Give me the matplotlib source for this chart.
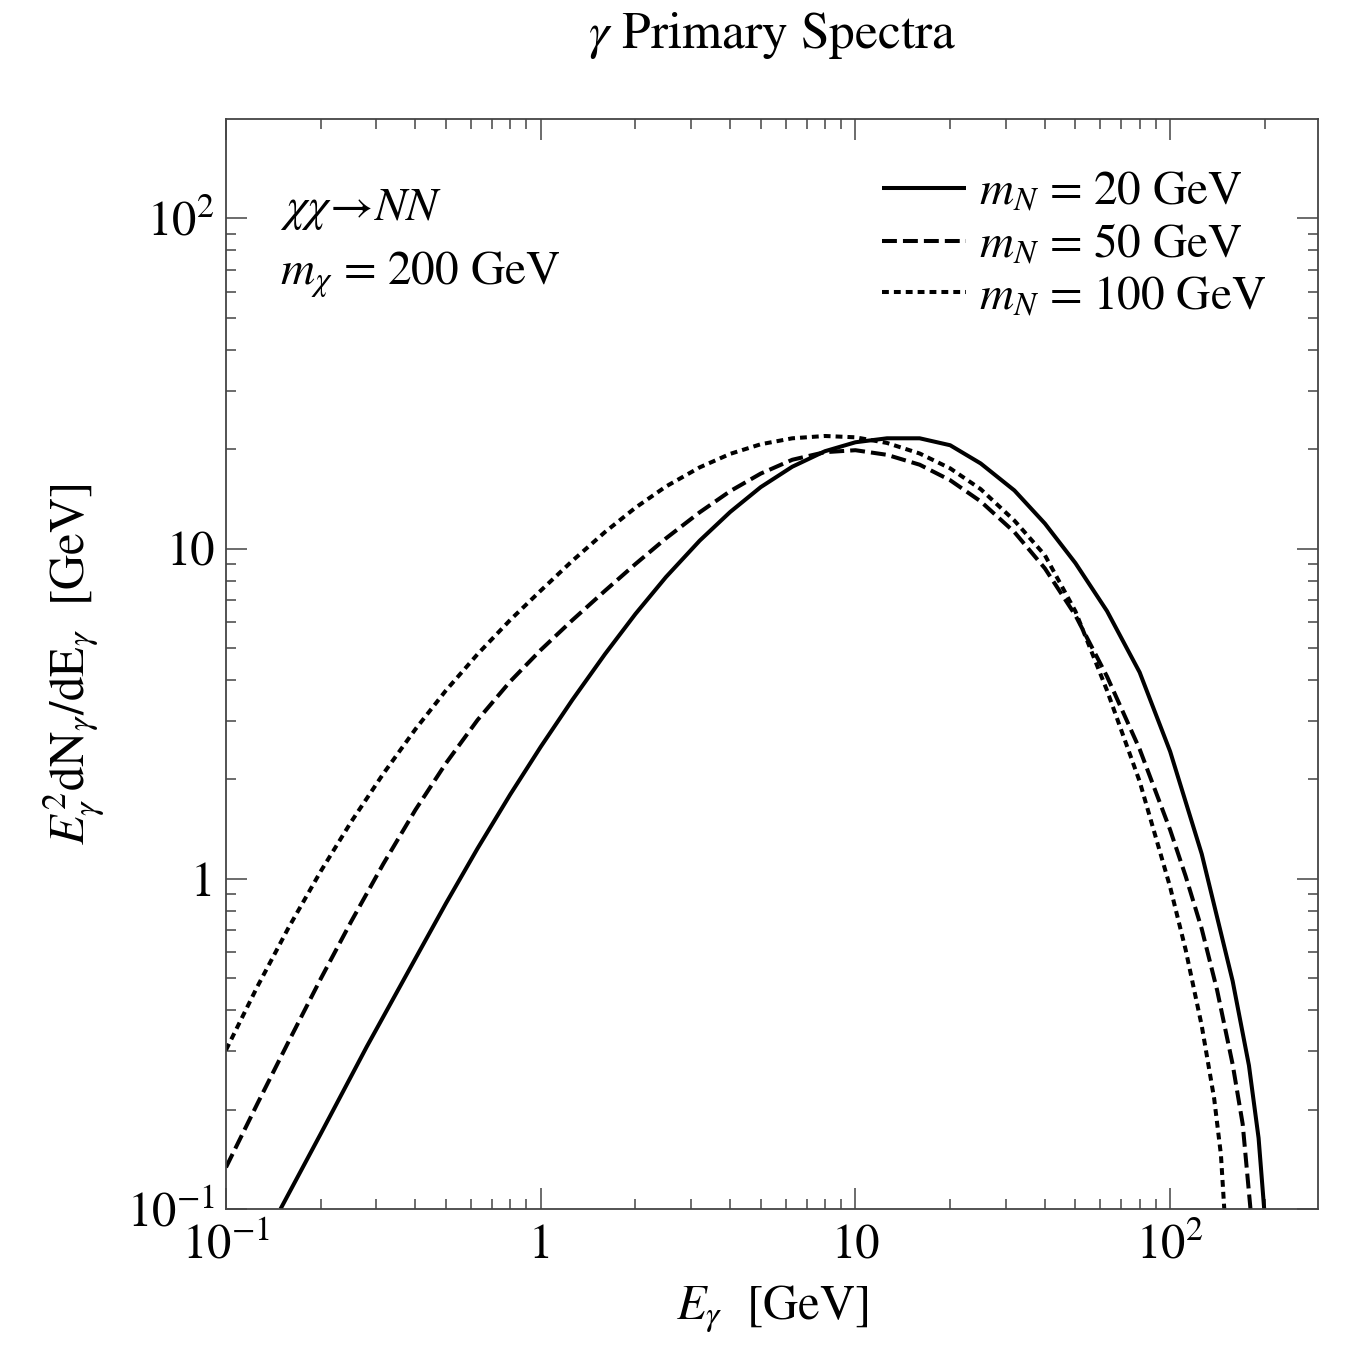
import matplotlib
matplotlib.use("Agg")
import matplotlib.pyplot as plt
from matplotlib.ticker import FixedLocator, NullFormatter

# ---- data (E_gamma in GeV, E^2 dN/dE in GeV) ----
x_mN20 = [0.149, 0.2, 0.28, 0.4, 0.5, 0.63, 0.8, 1.0, 1.26, 1.6, 2.0, 2.5, 3.2, 4.0, 5.0,
          6.3, 8.0, 10.0, 12.6, 16.0, 20.0, 25.0, 32.0, 40.0, 50.0, 63.0, 80.0, 100.0,
          126.0, 158.0, 178.0, 191.0, 199.0]
y_mN20 = [0.1, 0.169, 0.310, 0.574, 0.843, 1.236, 1.80, 2.51, 3.48, 4.79, 6.34, 8.20,
          10.57, 12.91, 15.35, 17.70, 19.72, 20.99, 21.58, 21.58, 20.56, 18.11, 15.0, 11.91,
          9.04, 6.47, 4.22, 2.43, 1.189, 0.49, 0.272, 0.164, 0.1]

x_mN50 = [0.1, 0.126, 0.158, 0.2, 0.25, 0.316, 0.4, 0.5, 0.63, 0.8, 1.0, 1.26, 1.6, 2.0,
          2.5, 3.2, 4.0, 5.0, 6.3, 8.0, 10.0, 12.6, 16.0, 20.0, 25.0, 32.0, 40.0, 50.0,
          63.0, 80.0, 100.0, 112.0, 126.0, 141.0, 158.0, 170.0, 180.0]
y_mN50 = [0.1337, 0.209, 0.321, 0.498, 0.743, 1.109, 1.618, 2.239, 3.027, 3.96, 4.93, 6.07,
          7.45, 8.98, 10.74, 12.88, 14.93, 16.87, 18.58, 19.59, 19.86, 19.23, 17.95, 16.11,
          13.90, 11.22, 8.71, 6.28, 4.10, 2.47, 1.406, 1.019, 0.705, 0.460, 0.274, 0.181, 0.1]

x_mN100 = [0.1, 0.126, 0.158, 0.2, 0.25, 0.316, 0.4, 0.5, 0.63, 0.8, 1.0, 1.26, 1.6, 2.0,
           2.5, 3.2, 4.0, 5.0, 6.3, 8.0, 10.0, 12.6, 16.0, 20.0, 25.0, 32.0, 40.0, 50.0,
           63.0, 80.0, 100.0, 112.0, 126.0, 138.0, 145.0, 148.6]
y_mN100 = [0.303, 0.473, 0.711, 1.054, 1.489, 2.08, 2.84, 3.72, 4.79, 6.08, 7.46, 9.18,
           11.22, 13.30, 15.42, 17.62, 19.36, 20.70, 21.58, 21.93, 21.73, 20.89, 19.41,
           17.50, 15.14, 12.16, 9.55, 6.46, 3.72, 1.972, 0.944, 0.610, 0.359, 0.216, 0.146, 0.1]

series_labels = [r"$m_N$ = 20 GeV", r"$m_N$ = 50 GeV", r"$m_N$ = 100 GeV"]

x_ticks = [0.1, 1, 10, 100]
x_ticklabels = [r"$10^{-1}$", "1", "10", r"$10^{2}$"]
y_ticks = [0.1, 1, 10, 100]
y_ticklabels = [r"$10^{-1}$", "1", "10", r"$10^{2}$"]

# ---- style ----
plt.rcParams['font.family'] = ['STIXGeneral', 'DejaVu Serif']
plt.rcParams['mathtext.fontset'] = 'stix'

W, H = 1348, 1345
fig = plt.figure(figsize=(W / 100, H / 100), dpi=100)
ax = fig.add_axes([226 / W, 1 - 1209 / H, (1318 - 226) / W, (1209 - 119) / H])

lw = 2.9
ax.plot(x_mN20, y_mN20, color='black', lw=lw, linestyle='-', label=series_labels[0],
        solid_capstyle='butt', solid_joinstyle='round')
ax.plot(x_mN50, y_mN50, color='black', lw=lw, linestyle=(0, (3.7, 1.5)),
        label=series_labels[1])
ax.plot(x_mN100, y_mN100, color='black', lw=lw, linestyle=(0, (1.7, 1.25)),
        label=series_labels[2])

ax.set_xscale('log')
ax.set_yscale('log')
ax.set_xlim(0.1, 295)
ax.set_ylim(0.1, 200)

minor_x = [m * 10.0 ** e for e in range(-1, 3) for m in range(2, 10) if m * 10.0 ** e < 295]
minor_y = [m * 10.0 ** e for e in range(-1, 3) for m in range(2, 10) if m * 10.0 ** e < 200]
ax.xaxis.set_major_locator(FixedLocator(x_ticks))
ax.xaxis.set_minor_locator(FixedLocator(minor_x))
ax.yaxis.set_major_locator(FixedLocator(y_ticks))
ax.yaxis.set_minor_locator(FixedLocator(minor_y))
ax.set_xticklabels(x_ticklabels)
ax.set_yticklabels(y_ticklabels)
ax.xaxis.set_minor_formatter(NullFormatter())
ax.yaxis.set_minor_formatter(NullFormatter())

spine_col = '#444444'
for s in ax.spines.values():
    s.set_linewidth(1.3)
    s.set_color(spine_col)
ax.tick_params(which='both', direction='in', top=True, right=True, color=spine_col,
               width=1.1, labelsize=35, labelcolor='black')
ax.tick_params(which='major', length=15)
ax.tick_params(which='minor', length=7.5)
ax.tick_params(axis='x', which='major', pad=11)
ax.tick_params(axis='y', which='major', pad=8)

ax.set_xlabel(r"$E_\gamma$  [GeV]", fontsize=35, labelpad=10)
ax.set_ylabel(r"$E_\gamma^2$dN$_\gamma$/dE$_\gamma$  [GeV]", fontsize=35, labelpad=14)
fig.suptitle(r"$\gamma$ Primary Spectra", fontsize=37, x=(226 + 1318) / 2 / W,
             y=1 - 10 / H, va='top')

fig.text(280 / W, 1 - 210 / H, r"$\chi\chi\!\rightarrow\!NN$", fontsize=34,
         va='center', ha='left')
fig.text(280 / W, 1 - 275 / H, r"$m_\chi$ = 200 GeV", fontsize=34,
         va='center', ha='left')

ax.legend(loc='upper left', bbox_to_anchor=(882 / W, 1 - 171 / H),
          bbox_transform=fig.transFigure, frameon=False, fontsize=34,
          handlelength=1.78, handletextpad=0.28, labelspacing=0.17, borderpad=0,
          borderaxespad=0)

fig.savefig("out.png", dpi=100)
